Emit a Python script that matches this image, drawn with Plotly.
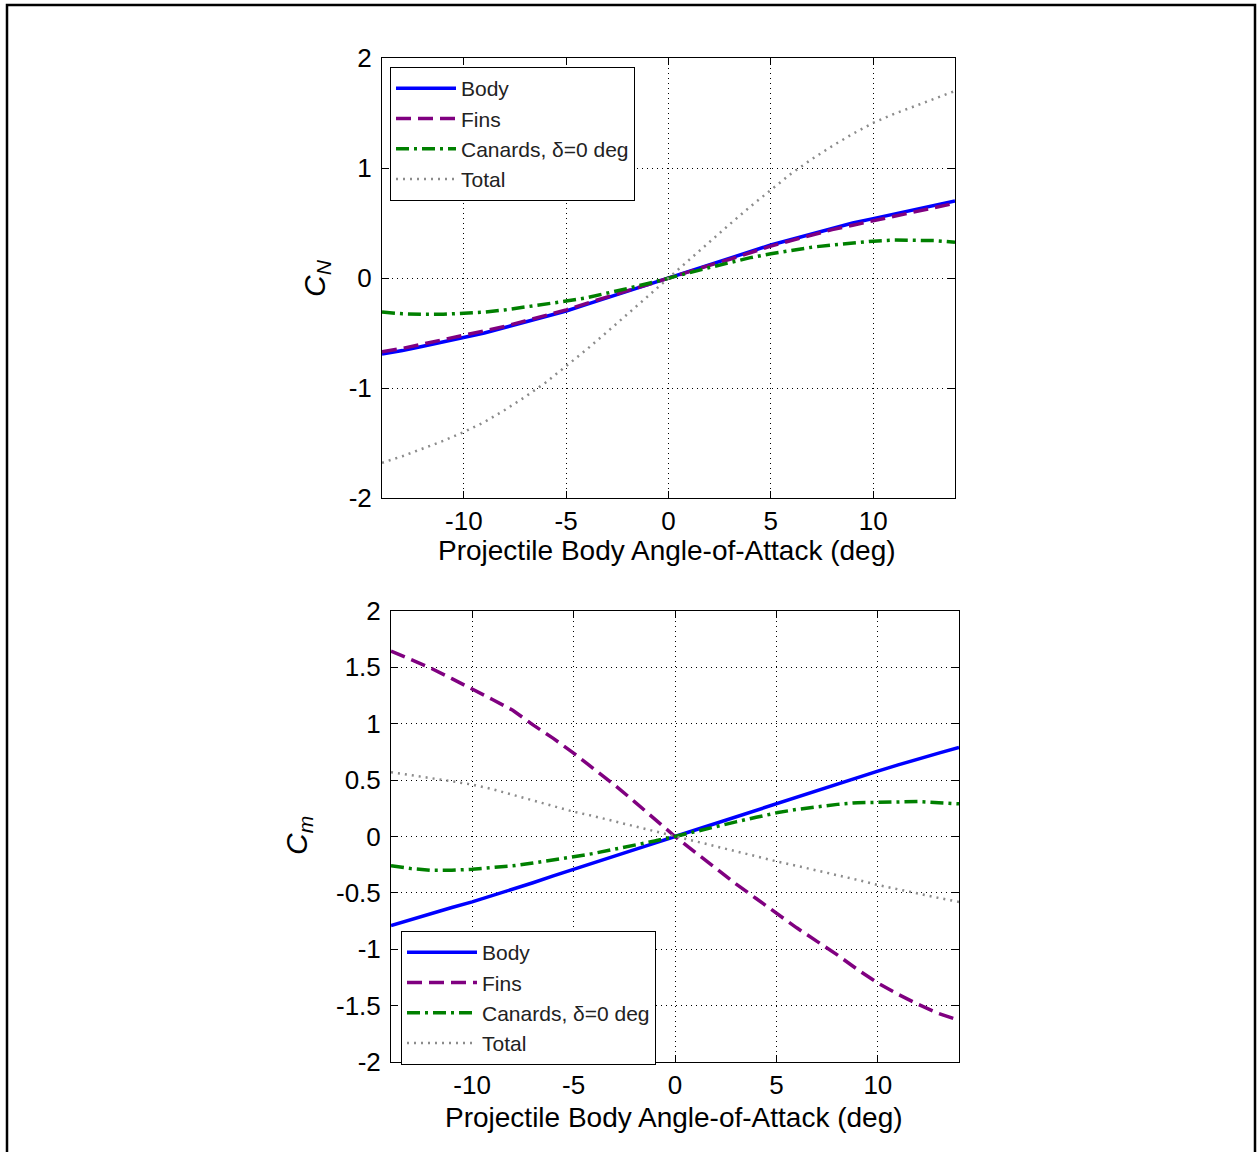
import plotly.graph_objects as go

# ---------------- data ----------------
alpha = list(range(-14, 15))

series_names = ["Body", "Fins", "Canards, δ=0 deg", "Total"]

cn_body = [-0.69, -0.66, -0.62, -0.58, -0.54, -0.50, -0.45, -0.40, -0.35, -0.30, -0.24, -0.18, -0.12, -0.06, 0.0,
           0.06, 0.12, 0.18, 0.24, 0.30, 0.35, 0.40, 0.45, 0.50, 0.54, 0.58, 0.62, 0.66, 0.70]
cn_fins = [-0.67, -0.64, -0.60, -0.56, -0.52, -0.48, -0.44, -0.39, -0.34, -0.29, -0.23, -0.17, -0.115, -0.06, 0.0,
           0.06, 0.115, 0.17, 0.23, 0.29, 0.34, 0.39, 0.44, 0.48, 0.52, 0.56, 0.60, 0.64, 0.68]
cn_canards = [-0.31, -0.325, -0.33, -0.33, -0.32, -0.31, -0.29, -0.265, -0.24, -0.21, -0.18, -0.14, -0.095, -0.05, 0.0,
              0.05, 0.095, 0.14, 0.185, 0.22, 0.25, 0.28, 0.30, 0.32, 0.335, 0.345, 0.345, 0.34, 0.325]
cn_total = [-1.68, -1.62, -1.55, -1.48, -1.40, -1.31, -1.20, -1.08, -0.95, -0.80, -0.65, -0.49, -0.33, -0.165, 0.0,
            0.165, 0.33, 0.49, 0.65, 0.80, 0.95, 1.08, 1.20, 1.31, 1.41, 1.49, 1.56, 1.63, 1.70]

cm_body = [-0.79, -0.735, -0.68, -0.63, -0.58, -0.525, -0.47, -0.41, -0.35, -0.29, -0.235, -0.175, -0.117, -0.058, 0.0,
           0.058, 0.117, 0.175, 0.235, 0.29, 0.35, 0.41, 0.47, 0.525, 0.58, 0.635, 0.69, 0.74, 0.79]
cm_fins = [1.645, 1.57, 1.49, 1.40, 1.31, 1.215, 1.12, 0.99, 0.87, 0.74, 0.60, 0.46, 0.31, 0.155, 0.0,
           -0.14, -0.28, -0.42, -0.55, -0.68, -0.81, -0.93, -1.05, -1.18, -1.30, -1.40, -1.49, -1.57, -1.63]
cm_canards = [-0.26, -0.285, -0.30, -0.30, -0.29, -0.275, -0.26, -0.235, -0.21, -0.18, -0.15, -0.115, -0.08, -0.04, 0.0,
              0.045, 0.09, 0.13, 0.17, 0.21, 0.24, 0.265, 0.285, 0.30, 0.305, 0.31, 0.31, 0.30, 0.29]
cm_total = [0.57, 0.545, 0.515, 0.49, 0.46, 0.42, 0.37, 0.32, 0.27, 0.22, 0.18, 0.135, 0.09, 0.045, 0.0,
            -0.045, -0.09, -0.13, -0.175, -0.22, -0.26, -0.30, -0.34, -0.385, -0.43, -0.47, -0.51, -0.545, -0.58]

x_tickvals = [-10, -5, 0, 5, 10]
x_ticktext = ["-10", "-5", "0", "5", "10"]
cn_tickvals = [-2, -1, 0, 1, 2]
cn_ticktext = ["-2", "-1", "0", "1", "2"]
cm_tickvals = [-2, -1.5, -1, -0.5, 0, 0.5, 1, 1.5, 2]
cm_ticktext = ["-2", "-1.5", "-1", "-0.5", "0", "0.5", "1", "1.5", "2"]

x_title = "Projectile Body Angle-of-Attack (deg)"

# ---------------- styles ----------------
W, H = 1257, 1152
FONT = "Liberation Sans, Arial, sans-serif"
styles = [
    dict(color="#0000FF", width=3.5, dash="solid"),
    dict(color="#800080", width=3.5, dash="15px,7px"),
    dict(color="#008000", width=3.5, dash="13px,5px,3px,5px"),
    dict(color="#8c8c8c", width=2.5, dash="2px,5px"),
]

fig = go.Figure()

top_series = [cn_body, cn_fins, cn_canards, cn_total]
bot_series = [cm_body, cm_fins, cm_canards, cm_total]

for name, ys, st in zip(series_names, top_series, styles):
    fig.add_trace(go.Scatter(x=alpha, y=ys, mode="lines", name=name, line=st,
                             xaxis="x", yaxis="y", legend="legend"))
for name, ys, st in zip(series_names, bot_series, styles):
    fig.add_trace(go.Scatter(x=alpha, y=ys, mode="lines", name=name, line=st,
                             xaxis="x2", yaxis="y2", legend="legend2"))


def px_x(p):
    return p / W


def px_y(p):
    return 1 - p / H


axis_common = dict(
    showline=True, linecolor="black", linewidth=1, mirror="ticks",
    ticks="inside", ticklen=7, tickcolor="black", automargin=False,
    showgrid=True, gridcolor="black", griddash="1px,4px", gridwidth=1,
    zeroline=False, tickfont=dict(family=FONT, size=26, color="black"),
)

legend_common = dict(
    xanchor="left", yanchor="top",
    bgcolor="white", bordercolor="black", borderwidth=1,
    font=dict(family=FONT, size=21, color="#222222"), tracegroupgap=0,
)

fig.update_layout(
    template="none",
    width=W, height=H,
    margin=dict(l=0, r=0, t=0, b=0, pad=0),
    paper_bgcolor="white", plot_bgcolor="white",
    font=dict(family=FONT, color="black"),
    xaxis=dict(domain=[px_x(382), px_x(955)], range=[-14, 14], anchor="y",
               tickvals=x_tickvals, ticktext=x_ticktext, **axis_common),
    yaxis=dict(domain=[px_y(498), px_y(58)], range=[-2, 2], anchor="x",
               tickvals=cn_tickvals, ticktext=cn_ticktext, ticklabelstandoff=4, **axis_common),
    xaxis2=dict(domain=[px_x(391), px_x(959)], range=[-14, 14], anchor="y2",
                tickvals=x_tickvals, ticktext=x_ticktext, **axis_common),
    yaxis2=dict(domain=[px_y(1062), px_y(611)], range=[-2, 2], anchor="x2",
                tickvals=cm_tickvals, ticktext=cm_ticktext, ticklabelstandoff=4, **axis_common),
    legend=dict(x=px_x(390), y=px_y(67), itemwidth=60, **legend_common),
    legend2=dict(x=px_x(401), y=px_y(931), itemwidth=70, **legend_common),
    showlegend=True,
)

annotations = [
    dict(text=x_title, x=px_x(667), y=px_y(550), xref="paper", yref="paper",
         showarrow=False, font=dict(family=FONT, size=28, color="black"),
         xanchor="center", yanchor="middle"),
    dict(text=x_title, x=px_x(674), y=px_y(1117), xref="paper", yref="paper",
         showarrow=False, font=dict(family=FONT, size=28, color="black"),
         xanchor="center", yanchor="middle"),
    dict(text="<i>C<sub>N</sub></i>", x=px_x(316), y=px_y(278), xref="paper", yref="paper",
         showarrow=False, textangle=-90, font=dict(family=FONT, size=30, color="black"),
         xanchor="center", yanchor="middle"),
    dict(text="<i>C<sub>m</sub></i>", x=px_x(298), y=px_y(836), xref="paper", yref="paper",
         showarrow=False, textangle=-90, font=dict(family=FONT, size=30, color="black"),
         xanchor="center", yanchor="middle"),
]
fig.update_layout(annotations=annotations)

# outer frame
fig.add_shape(type="rect", xref="paper", yref="paper",
              x0=px_x(7), x1=px_x(1255), y0=px_y(1170), y1=px_y(5),
              line=dict(color="black", width=2.5), fillcolor="rgba(0,0,0,0)")

fig.write_html(
    "out.html",
    config={"displayModeBar": False},
    post_script="document.body.style.margin='0px';document.body.style.overflow='hidden';",
)
